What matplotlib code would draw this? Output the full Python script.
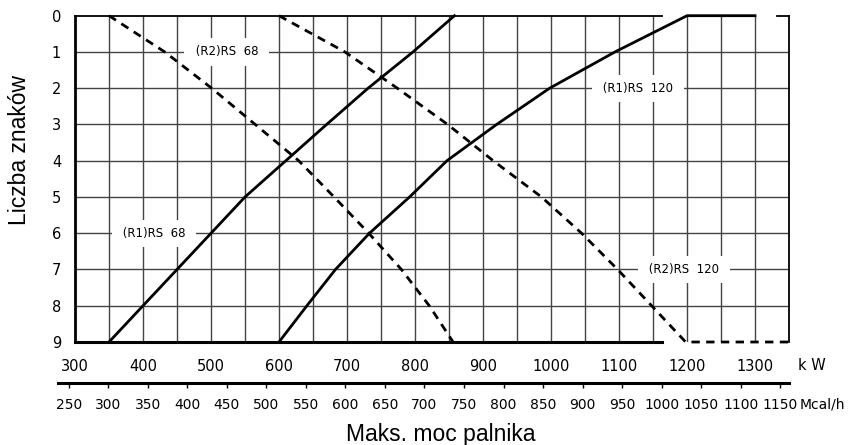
import numpy as np
import matplotlib.pyplot as plt

# burner curves: max burner power [kW] vs number of marks (0 at top)
r1_rs68_kw = [350, 400, 450, 500, 550, 610, 670, 731, 797, 858]
r1_rs68_n = [9, 8, 7, 6, 5, 4, 3, 2, 1, 0]

r1_rs120_kw = [600, 641, 683, 733, 792, 847, 920, 998, 1094, 1200, 1300]
r1_rs120_n = [9, 8, 7, 6, 5, 4, 3, 2, 1, 0, 0]

r2_rs68_kw = [350, 432, 501, 565, 629, 681, 732, 780, 821, 856]
r2_rs68_n = [0, 1, 2, 3, 4, 5, 6, 7, 8, 9]

r2_rs120_kw = [600, 697, 774, 848, 915, 986, 1045, 1098, 1148, 1198, 1350]
r2_rs120_n = [0, 1, 2, 3, 4, 5, 6, 7, 8, 9, 9]

curve_labels = ["(R2)RS  68", "(R1)RS  120", "(R1)RS  68", "(R2)RS  120"]
label_kw = [523, 1128, 416, 1195]
label_n = [1, 2, 6, 7]

kw_ticks = np.arange(300, 1301, 100)
mcal_ticks = np.arange(250, 1151, 50)
KW_TO_MCAL = 0.86

W, H = 850, 445
fig = plt.figure(figsize=(W / 100, H / 100), dpi=100)

ax = fig.add_axes([75 / W, 1 - 342 / H, (789 - 75) / W, (342 - 15.7) / H])
ax.set_xlim(300, 1350)
ax.set_ylim(9, 0)
ax.set_xticks(kw_ticks)
ax.set_yticks(range(10))
ax.tick_params(which='both', length=0)
ax.tick_params(axis='x', pad=12, labelsize=10.5)
ax.tick_params(axis='y', pad=10, labelsize=10.5)
for lab in ax.get_xticklabels() + ax.get_yticklabels():
    lab.set_family('DejaVu Sans')

# grid every 50 kW and every mark
ax.vlines(np.arange(350, 1301, 50), 0, 9, color='#444444', lw=1, zorder=0)
ax.hlines(np.arange(1, 9), 300, 1350, color='#444444', lw=1, zorder=0)

ax.spines['left'].set_linewidth(2)
ax.spines['bottom'].set_linewidth(2.2)
ax.spines['bottom'].set_bounds(300, 1163)
ax.spines['top'].set_linewidth(1.3)
ax.spines['top'].set_bounds(300, 1163)
ax.spines['right'].set_linewidth(1.3)
# short piece of top frame after the gap
ax.plot([1333, 1350], [0, 0], color='black', lw=1.3, clip_on=False, zorder=5)

dash = (3, 2.3)
ax.plot(r1_rs68_kw, r1_rs68_n, color='black', lw=2, clip_on=False, zorder=4)
ax.plot(r1_rs120_kw, r1_rs120_n, color='black', lw=2, clip_on=False, zorder=4)
ax.plot(r2_rs68_kw, r2_rs68_n, color='black', lw=2, ls=(0, dash), clip_on=False, zorder=4)
ax.plot(r2_rs120_kw, r2_rs120_n, color='black', lw=2, ls=(0, dash), clip_on=False, zorder=4)

for txt, x, y in zip(curve_labels, label_kw, label_n):
    ax.text(x, y, ' ' + txt + ' ', ha='center', va='center', fontsize=8.5,
            family='DejaVu Sans', zorder=3,
            bbox=dict(boxstyle='square,pad=0.6', fc='white', ec='none'))

# second scale in Mcal/h
axm = fig.add_axes([58 / W, 1 - 383 / H, (789 - 58) / W, 0.01])
axm.set_xlim(275, 1350)
axm.set_ylim(0, 1)
for s in ['top', 'left', 'right']:
    axm.spines[s].set_visible(False)
axm.spines['bottom'].set_linewidth(2.2)
axm.patch.set_visible(False)
axm.set_yticks([])
axm.set_xticks(mcal_ticks / KW_TO_MCAL)
axm.set_xticklabels([str(v) for v in mcal_ticks], family='DejaVu Sans', size=10)
axm.tick_params(axis='x', length=3.5, width=1, pad=7)

fig.text(812 / W, 1 - 366 / H, 'k W', ha='center', va='center',
         family='DejaVu Sans', size=10.5)
fig.text(800 / W, 1 - 405 / H, 'Mcal/h', ha='left', va='center',
         family='DejaVu Sans', size=10)

fig.text(20 / W, 1 - 150 / H, 'Liczba znaków', rotation=90, ha='center', va='center',
         family='Liberation Sans', fontsize=16.5)
fig.text(441 / W, 1 - 441.5 / H, 'Maks. moc palnika', ha='center', va='baseline',
         family='Liberation Sans', fontsize=16.5)

fig.savefig('out.png', dpi=100)
plt.close(fig)
